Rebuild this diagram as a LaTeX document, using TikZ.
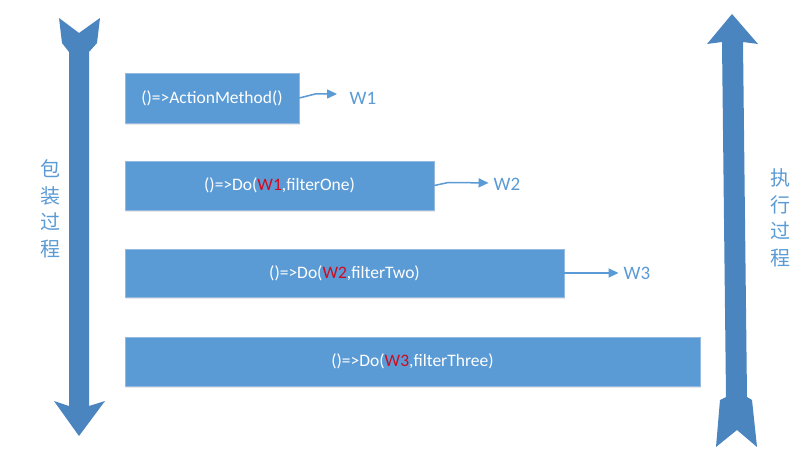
\documentclass[tikz,border=0pt]{standalone}
\usepackage{fontspec}
\setmainfont{Carlito}
\newfontfamily\cjk{Noto Sans CJK SC}
\usetikzlibrary{arrows.meta,shadows}
\definecolor{boxblue}{RGB}{91,155,213}
\definecolor{boxedge}{RGB}{150,185,225}
\definecolor{bigblue}{RGB}{75,133,191}
\definecolor{labblue}{RGB}{91,155,213}
\definecolor{wred}{RGB}{210,10,30}
\begin{document}
\begin{tikzpicture}[x=1pt,y=-1pt,
  codebox/.style={fill=boxblue,draw=boxedge,line width=0.6pt,text=white,font=\fontsize{17.5}{19}\selectfont,
    drop shadow={opacity=0.18,shadow xshift=1pt,shadow yshift=-2pt}},
  wlabel/.style={text=labblue,font=\fontsize{19}{21}\selectfont,inner sep=0pt},
  conn/.style={draw=labblue,line width=1.5pt,-{Triangle[length=10pt,width=9pt]}},
  bigarrow/.style={fill=bigblue,draw=none},
  vlabel/.style={text=labblue,font=\cjk\fontsize{20}{26.5}\selectfont,align=center,inner sep=0pt}]
\useasboundingbox (0,0) rectangle (812,468);
\fill[white] (0,0) rectangle (812,468);

% left big arrow (pointing down, notched tail at top)
\path[bigarrow] (59,18) -- (79,33) -- (100,18) -- (97,43) -- (89,52) -- (89,406)
  -- (105,401) -- (79,436) -- (54,401) -- (69,406) -- (69,52) -- (62,43) -- cycle;
% right big arrow (pointing up, notched tail at bottom)
\path[bigarrow] (732,14) -- (758,44) -- (743,42) -- (747,397) -- (752,400) -- (757,447)
  -- (737,430) -- (716,447) -- (720,400) -- (726,397) -- (722,42) -- (707,44) -- cycle;

% side labels
\node[vlabel] (wrap) at (51,209) {包\\装\\过\\程};
\node[vlabel] (exec) at (780,218) {执\\行\\过\\程};

% boxes
\node[codebox,minimum width=174pt,minimum height=50pt] (b1) at (212,98) {()=>ActionMethod()};
\node[codebox,minimum width=309pt,minimum height=49pt] (b2) at (279.5,185.5) {()=>Do(\textcolor{wred}{W1},filterOne)};
\node[codebox,minimum width=439pt,minimum height=48pt] (b3) at (344.5,273) {()=>Do(\textcolor{wred}{W2},filterTwo)};
\node[codebox,minimum width=575pt,minimum height=49pt] (b4) at (412.5,361.5) {()=>Do(\textcolor{wred}{W3},filterThree)};

% W labels
\node[wlabel] (w1) at (363,98) {W1};
\node[wlabel] (w2) at (507,184) {W2};
\node[wlabel] (w3) at (637,273) {W3};

% connectors
\draw[conn,shorten >=12.5pt] (b1.east) -- ++(16,-4) -- ([yshift=4pt]w1.west);
\draw[conn,shorten >=5pt] (b2.east) -- ++(14,-3) -- ([yshift=1pt]w2.west);
\draw[conn,shorten >=5pt] (b3.east) -- (w3.west);
\end{tikzpicture}
\end{document}
